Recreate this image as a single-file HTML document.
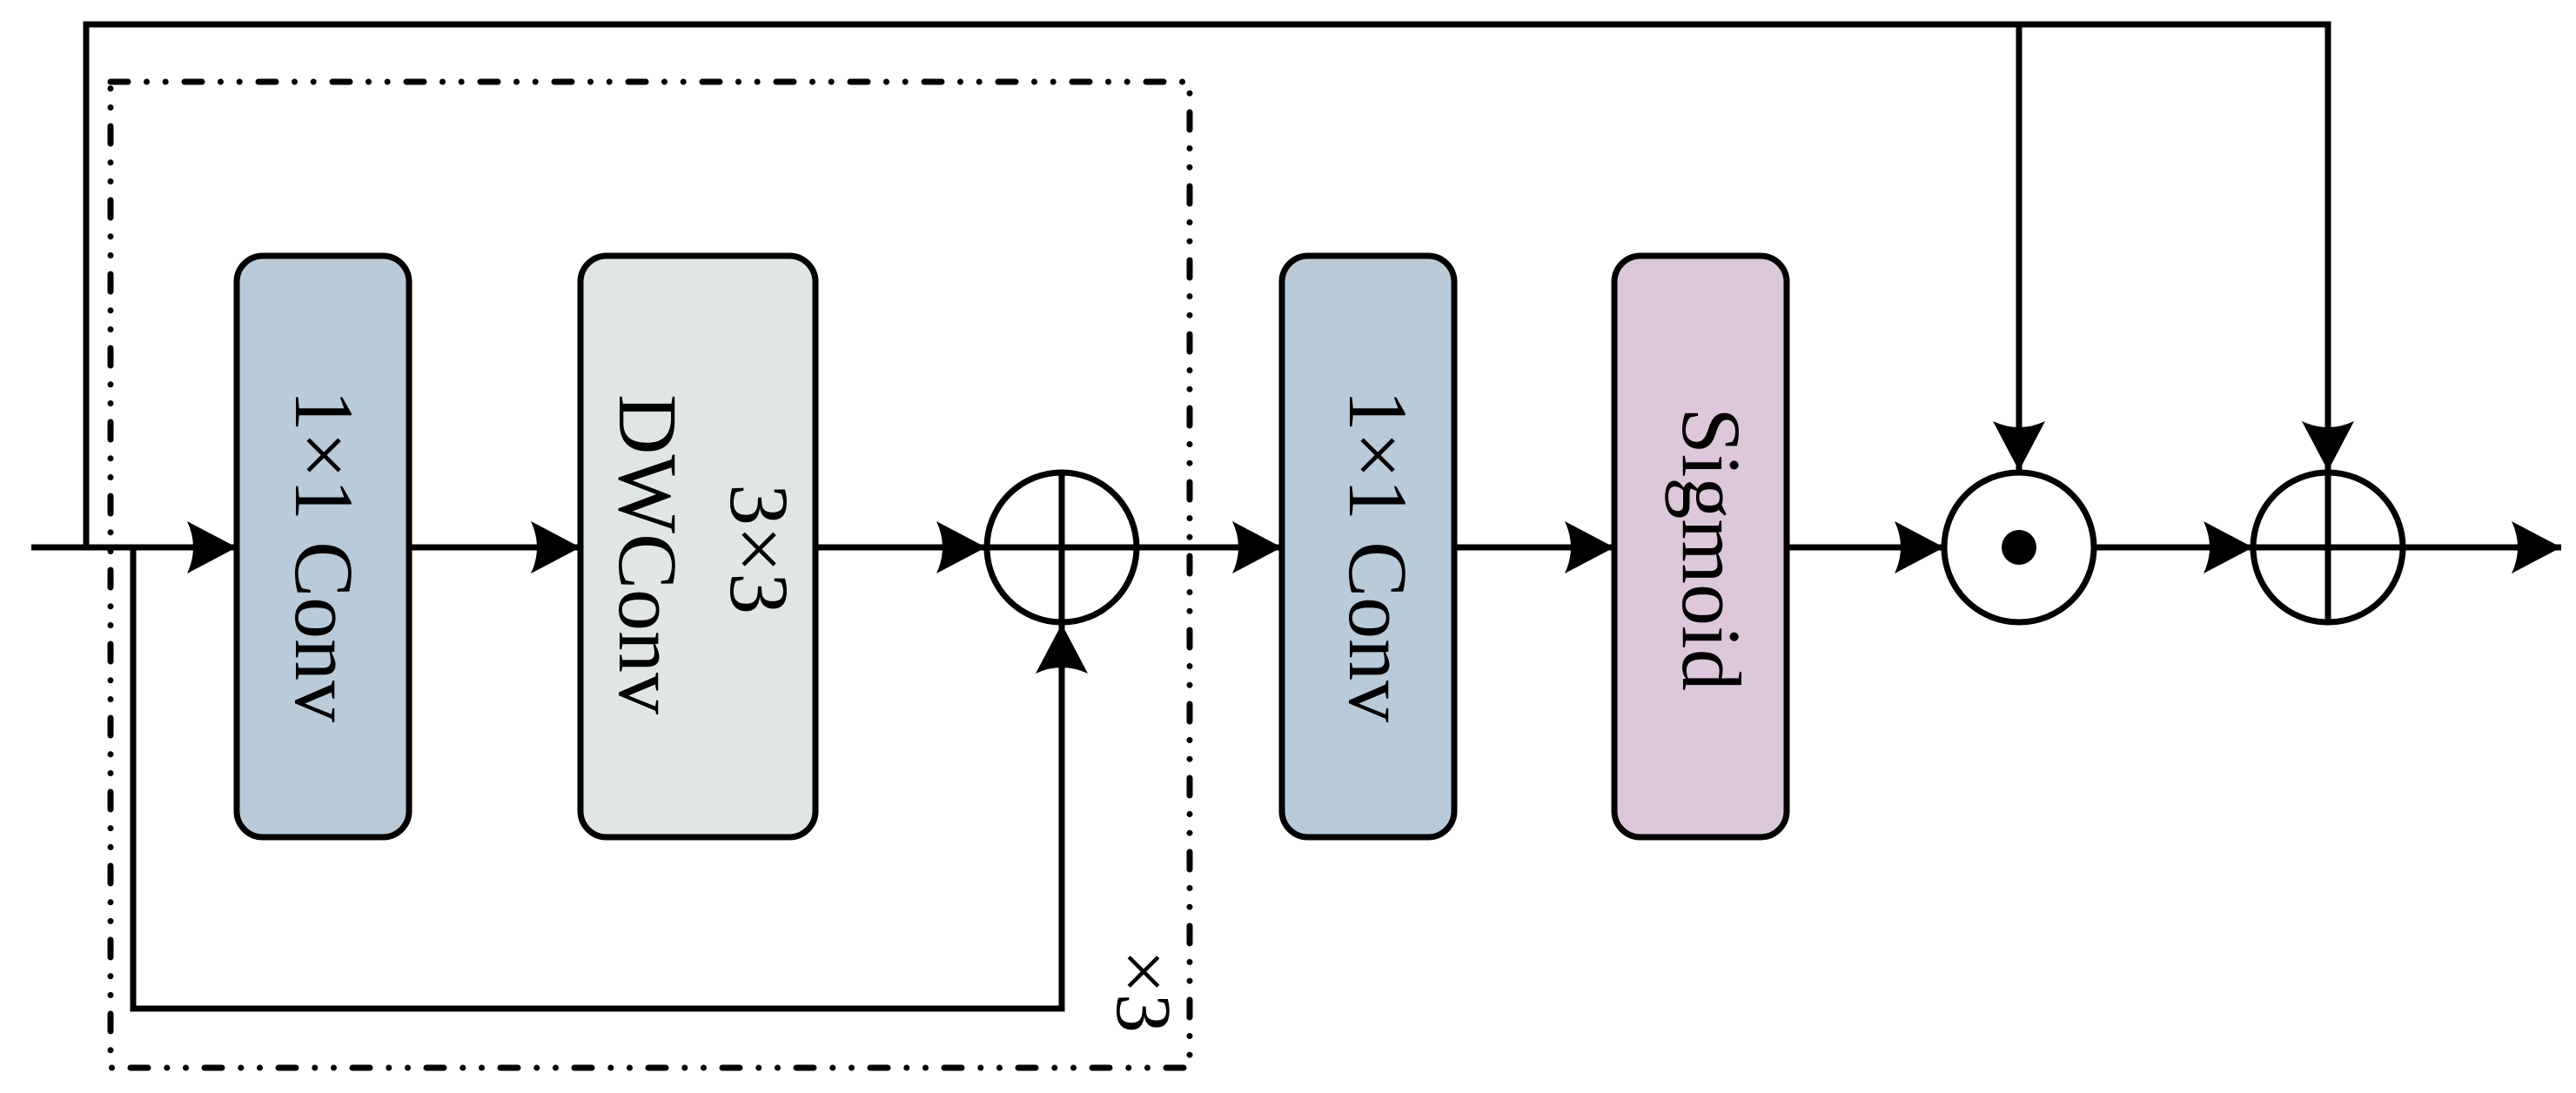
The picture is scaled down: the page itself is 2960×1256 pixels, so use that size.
<!DOCTYPE html>
<html><head><meta charset="utf-8"><style>html,body{margin:0;padding:0;background:#fff}svg{display:block}</style></head>
<body>
<svg width="2960" height="1256" viewBox="0 0 2960 1256" xmlns="http://www.w3.org/2000/svg">
<defs>
<marker id="ah" markerUnits="userSpaceOnUse" markerWidth="60" markerHeight="64" refX="57" refY="30" orient="auto">
<path d="M0,0 L57,30 L0,60 Q14,30 0,0 Z" fill="#000"/>
</marker>
</defs>
<g fill="none" stroke="#000" stroke-width="7">
<!-- dash-dot box -->
<rect x="127" y="94" width="1240" height="1133" stroke-width="7" stroke-linecap="round" stroke-dasharray="20 21.5 0 21.7 0 21.8"/>
<!-- top skip -->
<polyline points="99,629 99,28 2675,28 2675,541" marker-end="url(#ah)"/>
<line x1="2320" y1="28" x2="2320" y2="541" marker-end="url(#ah)"/>
<!-- main line segments -->
<line x1="36" y1="629" x2="272" y2="629" marker-end="url(#ah)"/>
<line x1="470" y1="629" x2="667" y2="629" marker-end="url(#ah)"/>
<line x1="937" y1="629" x2="1133" y2="629" marker-end="url(#ah)"/>
<line x1="1307" y1="629" x2="1473" y2="629" marker-end="url(#ah)"/>
<line x1="1671" y1="629" x2="1855" y2="629" marker-end="url(#ah)"/>
<line x1="2053" y1="629" x2="2234" y2="629" marker-end="url(#ah)"/>
<line x1="2406" y1="629" x2="2589" y2="629" marker-end="url(#ah)"/>
<line x1="2761" y1="629" x2="2943" y2="629" marker-end="url(#ah)"/>
<!-- inner skip loop -->
<polyline points="153,629 153,1159 1220,1159 1220,717" marker-end="url(#ah)"/>
<!-- boxes -->
<rect x="272" y="294" width="198" height="668" rx="30" fill="#b9cbd8"/>
<rect x="667" y="294" width="270" height="668" rx="30" fill="#e0e6e6"/>
<rect x="1473" y="294" width="198" height="668" rx="30" fill="#b9cbd8"/>
<rect x="1855" y="294" width="198" height="668" rx="30" fill="#dcc8da"/>
<!-- circles -->
<circle cx="1220" cy="629" r="86" fill="#fff"/>
<line x1="1134" y1="629" x2="1306" y2="629"/>
<line x1="1220" y1="543" x2="1220" y2="715"/>
<circle cx="2320" cy="629" r="86" fill="#fff"/>
<circle cx="2675" cy="629" r="86" fill="#fff"/>
<line x1="2589" y1="629" x2="2761" y2="629"/>
<line x1="2675" y1="543" x2="2675" y2="715"/>
</g>
<circle cx="2320" cy="629" r="20" fill="#000"/>
<g font-family="Liberation Serif, serif" font-size="96" fill="#000" text-anchor="middle">
<text transform="translate(340,639) rotate(90)">1×1 Conv</text>
<text transform="translate(1551,639) rotate(90)">1×1 Conv</text>
<text transform="translate(1934,631) rotate(90)">Sigmoid</text>
<text transform="translate(840,631) rotate(90)">3×3</text>
<text transform="translate(712,637) rotate(90)">DWConv</text>
<text font-size="90" transform="translate(1284,1139) rotate(90)">×3</text>
</g>
</svg>
</body></html>
